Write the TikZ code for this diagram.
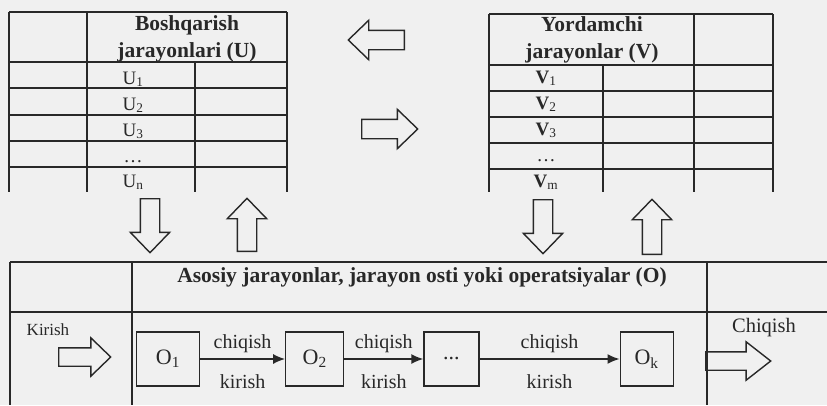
\documentclass[tikz,border=0pt]{standalone}
\usepackage{fontspec}
\setmainfont{Liberation Serif}
\usetikzlibrary{positioning}
\usetikzlibrary{shapes.arrows}
\usetikzlibrary{arrows.meta}
\definecolor{paper}{RGB}{240,240,240}
\definecolor{ink}{RGB}{40,40,40}

\begin{document}
\begin{tikzpicture}[
    x=1pt, y=-1pt,
    grid/.style={draw=ink, line width=1.2pt},
    head/.style={font=\fontsize{21.5}{27}\selectfont\bfseries, text=ink, align=center},
    cell/.style={font=\fontsize{19}{21}\selectfont, text=ink, anchor=base},
    lbl/.style={font=\fontsize{20}{22}\selectfont, text=ink, inner sep=1pt},
    opbox/.style={draw=ink, line width=1.2pt, minimum width=58pt, minimum height=54pt, font=\fontsize{22}{24}\selectfont, text=ink},
    flow/.style={-{Latex[length=12pt,width=10pt]}, draw=ink, line width=1.5pt},
    bigarrow/.style={single arrow, draw=ink, line width=1.4pt, inner sep=0pt, inner ysep=9pt,
        single arrow head extend=10pt, single arrow tip angle=88, anchor=tail}
]
\useasboundingbox[fill=paper] (0,0) rectangle (827,405);

% Control table
\foreach \y in {12,62,88,115,141,167}
    \draw[grid] (9,\y) -- (287,\y);
\draw[grid] (9,12) -- (9,192);
\draw[grid] (87,12) -- (87,192);
\draw[grid] (195,62) -- (195,192);
\draw[grid] (287,12) -- (287,192);
\node[head] (uhead) at (187,39) {Boshqarish\\jarayonlari (U)};
\foreach \n/\t/\y in {1/U\textsubscript{1}/84, 2/U\textsubscript{2}/110, 3/U\textsubscript{3}/136, 4/\ldots/162, 5/U\textsubscript{n}/187}
    \node[cell] (u\n) at (133,\y) {\t};

% Support table
\foreach \y in {14,65,91,117,143,169}
    \draw[grid] (489,\y) -- (773,\y);
\draw[grid] (489,14) -- (489,192);
\draw[grid] (603,65) -- (603,192);
\draw[grid] (694,14) -- (694,192);
\draw[grid] (773,14) -- (773,192);
\node[head] (vhead) at (592,40) {Yordamchi\\jarayonlar (V)};
\foreach \n/\t/\y in {1/\textbf{V}\textsubscript{1}/83, 2/\textbf{V}\textsubscript{2}/109, 3/\textbf{V}\textsubscript{3}/135, 4/\ldots/161, 5/\textbf{V}\textsubscript{m}/187}
    \node[cell] (v\n) at (546,\y) {\t};

% Main table
\draw[grid] (10,262) -- (827,262);
\draw[grid] (10,312) -- (827,312);
\draw[grid] (10,262) -- (10,405);
\draw[grid] (132,262) -- (132,405);
\draw[grid] (707,262) -- (707,405);
\node[head] (ohead) at (422,277) {Asosiy jarayonlar, jarayon osti yoki operatsiyalar (O)};
\node[lbl, font=\fontsize{17}{19}\selectfont] (kirish) at (48,330) {Kirish};
\node[lbl, font=\fontsize{20.5}{22}\selectfont] (chiqish) at (764,328) {Chiqish};

% Big arrows
\node[bigarrow, rotate=180, minimum height=56pt] (toleft) at (405,40) {};
\node[bigarrow, minimum height=56pt] (toright) at (361,129) {};
\node[bigarrow, rotate=-90, minimum height=54pt] (udown) at (150,198) {};
\node[bigarrow, rotate=90, minimum height=53pt] (uup) at (247,252) {};
\node[bigarrow, rotate=-90, minimum height=54pt] (vdown) at (543,199) {};
\node[bigarrow, rotate=90, minimum height=55pt] (vup) at (652,255) {};
\node[bigarrow, inner ysep=8.5pt, minimum height=52pt] (inarrow) at (58,357) {};
\node[bigarrow, inner ysep=8.5pt, single arrow tip angle=76, minimum height=65pt] (outarrow) at (705,361) {};

% Operations
\node[opbox, minimum width=63pt] (o1) at (168,359) {O\textsubscript{1}};
\node[opbox, right=85pt of o1] (o2) {O\textsubscript{2}};
\node[opbox, minimum width=55pt, right=79pt of o2] (odots) {...};
\node[opbox, minimum width=53pt, right=140pt of odots] (ok) {O\textsubscript{k}};

% Flows
\foreach \a/\b in {o1/o2, o2/odots, odots/ok}
    \draw[flow] (\a) -- node[lbl, midway, above=5pt] {chiqish} node[lbl, midway, below=14pt] {kirish} (\b);

\end{tikzpicture}
\end{document}
